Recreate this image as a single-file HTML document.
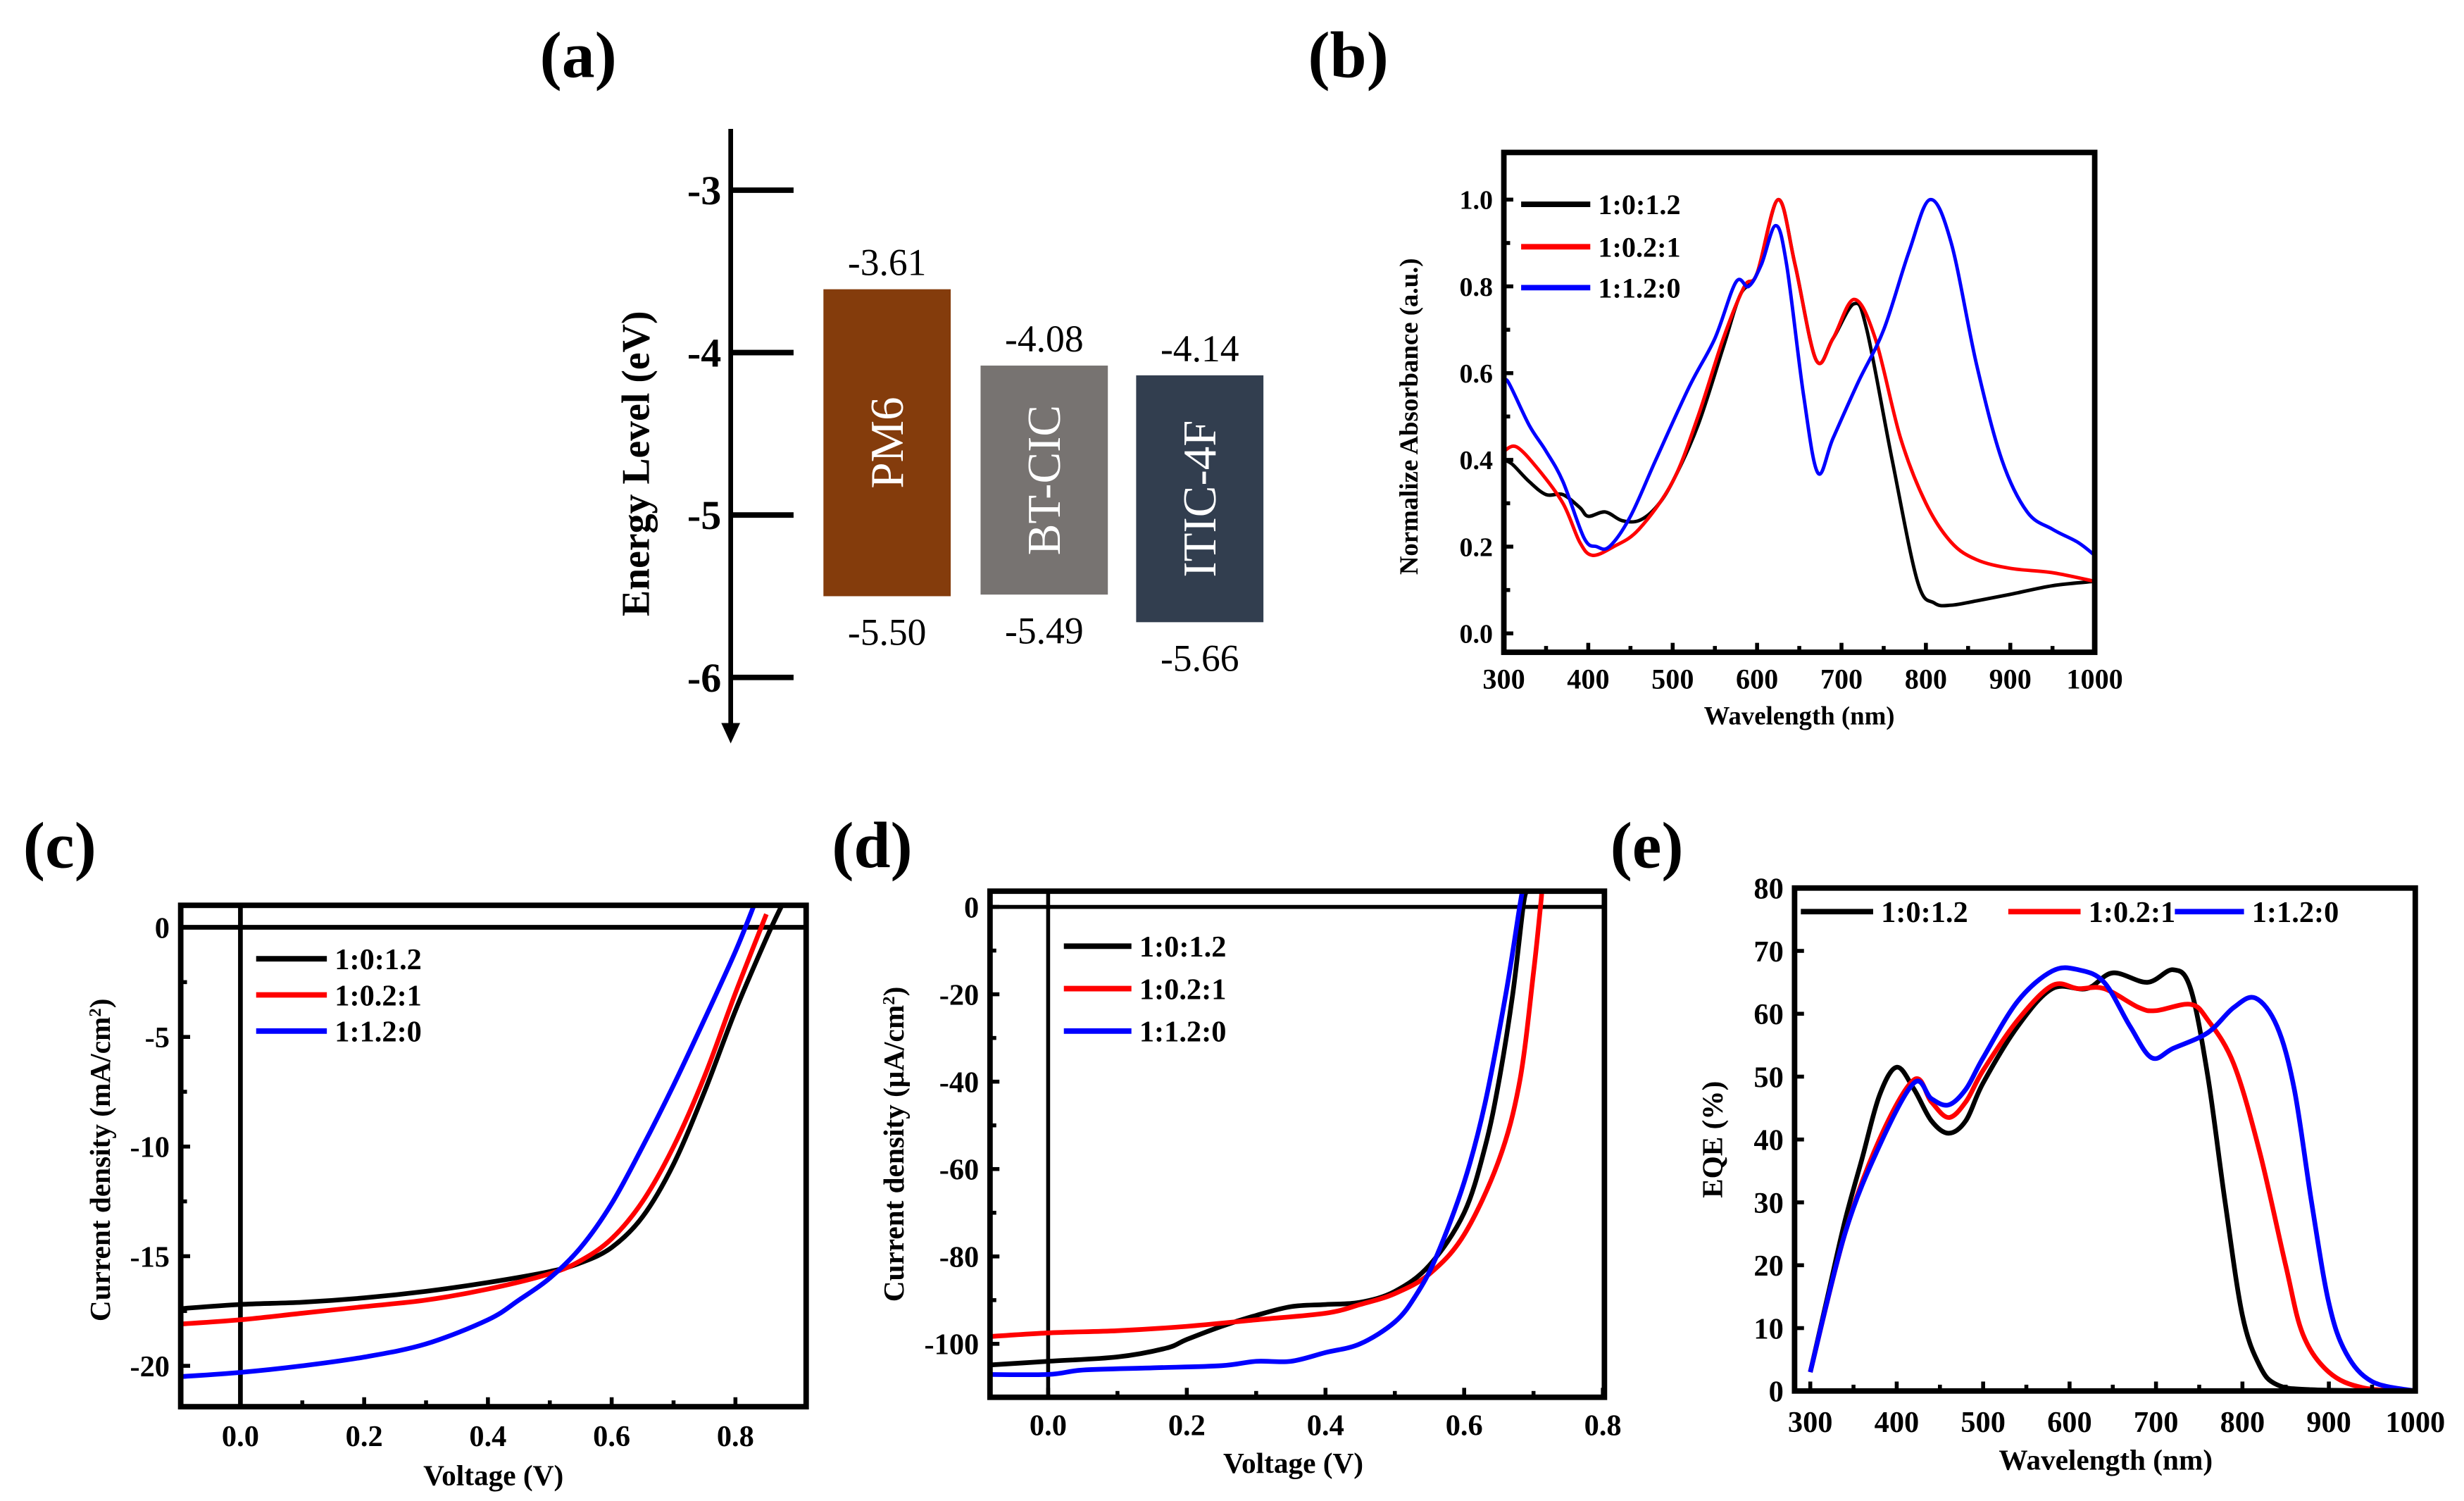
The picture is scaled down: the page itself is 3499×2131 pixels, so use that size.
<!DOCTYPE html>
<html><head><meta charset="utf-8">
<style>
html,body{margin:0;padding:0;background:#fff;}
svg{display:block;}
text{font-family:"Liberation Serif",serif;}
</style></head>
<body>
<svg id="fig" xmlns="http://www.w3.org/2000/svg" width="3499" height="2131" viewBox="0 0 1568 955" preserveAspectRatio="none">
<rect x="0" y="0" width="1568" height="955" fill="#fff"/>
</svg>
<script>
// ---------- Panel (a) data ----------
const aMaterials = ["PM6","BT-CIC","ITIC-4F"];
const aLUMO = [-3.61,-4.08,-4.14];
const aHOMO = [-5.50,-5.49,-5.66];
const aColors = ["#843c0c","#777371","#323e4f"];
const aTicks = [-3,-4,-5,-6];

// ---------- Panel (b) data ----------
const bBlackX = [300,310,330,350,370,390,400,420,440,460,480,500,530,560,580,600,625,645,670,690,715,730,760,790,810,830,860,900,950,1000];
const bBlackY = [0.40,0.39,0.35,0.32,0.32,0.29,0.27,0.28,0.26,0.26,0.29,0.35,0.48,0.66,0.78,0.83,1.0,0.85,0.63,0.68,0.76,0.70,0.40,0.12,0.07,0.065,0.075,0.09,0.11,0.12];
const bRedX = [300,315,340,370,390,405,430,460,500,530,560,585,600,625,645,670,690,715,740,770,800,830,860,900,950,1000];
const bRedY = [0.42,0.43,0.38,0.30,0.21,0.18,0.20,0.24,0.35,0.50,0.68,0.80,0.83,1.0,0.85,0.63,0.68,0.77,0.68,0.45,0.30,0.21,0.17,0.15,0.14,0.12];
const bBlueX = [300,305,330,350,370,395,410,425,450,480,520,550,575,590,605,622,635,655,672,690,720,750,780,805,830,860,890,920,950,980,1000];
const bBlueY = [0.57,0.58,0.48,0.42,0.35,0.22,0.20,0.20,0.27,0.40,0.57,0.68,0.81,0.80,0.85,0.94,0.85,0.55,0.37,0.45,0.58,0.70,0.88,1.0,0.90,0.62,0.40,0.28,0.24,0.21,0.18];
const bYTicks = [0,0.2,0.4,0.6,0.8,1.0];
const bYLabels = ["0.0","0.2","0.4","0.6","0.8","1.0"];
const wlTicks = [300,400,500,600,700,800,900,1000];

// ---------- Panel (c) data ----------
const cBlackX = [-0.1,0,0.1,0.2,0.3,0.4,0.5,0.55,0.6,0.65,0.7,0.75,0.8,0.85,0.875];
const cBlackY = [-17.4,-17.2,-17.1,-16.9,-16.6,-16.2,-15.7,-15.3,-14.6,-13.2,-10.8,-7.5,-3.8,-0.5,1.0];
const cRedX = [-0.1,0,0.1,0.2,0.3,0.4,0.5,0.55,0.6,0.65,0.7,0.75,0.8,0.85];
const cRedY = [-18.1,-17.9,-17.6,-17.3,-17.0,-16.5,-15.8,-15.2,-14.2,-12.5,-10.0,-6.8,-3.0,0.6];
const cBlueX = [-0.1,0,0.1,0.2,0.3,0.4,0.45,0.5,0.55,0.6,0.65,0.7,0.75,0.8,0.83];
const cBlueY = [-20.5,-20.3,-20.0,-19.6,-19.0,-17.9,-17.0,-16.0,-14.6,-12.6,-10.0,-7.2,-4.2,-1.1,1.0];
const cYTicks = [0,-5,-10,-15,-20];
const cXTicks = [0,0.2,0.4,0.6,0.8];
const cXLabels = ["0.0","0.2","0.4","0.6","0.8"];

// ---------- Panel (d) data ----------
const dBlackX = [-0.1,0,0.1,0.17,0.2,0.25,0.3,0.35,0.4,0.45,0.5,0.55,0.6,0.63,0.65,0.67,0.685,0.69];
const dBlackY = [-105,-104,-103,-101,-99,-96,-93.5,-91.5,-91,-90.5,-88,-82,-70,-55,-40,-20,0,3.6];
const dRedX = [-0.1,0,0.1,0.2,0.3,0.4,0.45,0.5,0.55,0.6,0.65,0.68,0.7,0.71,0.712];
const dRedY = [-98.5,-97.5,-97,-96,-94.5,-93,-91,-88.5,-84,-75,-58,-40,-15,0,3.6];
const dBlueX = [-0.1,0,0.05,0.15,0.25,0.3,0.35,0.4,0.45,0.5,0.53,0.56,0.6,0.63,0.66,0.68,0.684];
const dBlueY = [-107,-107,-106,-105.5,-105,-104,-104,-102,-100,-95,-89,-80,-63,-45,-20,0,3.6];
const dYTicks = [0,-20,-40,-60,-80,-100];
const dXTicks = [0,0.2,0.4,0.6,0.8];
const dXLabels = ["0.0","0.2","0.4","0.6","0.8"];

// ---------- Panel (e) data ----------
const eBlackX = [300,320,340,360,380,400,420,440,460,480,500,540,580,620,650,690,720,740,760,780,800,820,840,880,1000];
const eBlackY = [3,15,27,37,47,51.5,48,43,41,43,49,58,64,64,66.5,65,67,64,50,30,12,4,1,0.2,0];
const eRedX = [300,340,380,420,440,460,480,500,540,580,610,640,680,700,740,760,790,820,850,870,900,940,1000];
const eRedY = [3,25,40,49.5,46,43.5,46,51,59,64.5,64,64,61,60.5,61.5,59,52,38,20,9,3,0.5,0];
const eBlueX = [300,340,380,420,440,460,480,500,540,580,610,640,670,695,720,760,790,815,840,860,880,900,920,950,1000];
const eBlueY = [3,25,39,49,46.5,45.5,48,53,62,66.8,67,65,58,53,54.5,57,61,62.5,58,48,30,14,6,1.5,0];
const eYTicks = [0,10,20,30,40,50,60,70,80];

const NS = "http://www.w3.org/2000/svg";
const svg = document.getElementById("fig");
function mk(tag, attrs, parent, txt){
  const e = document.createElementNS(NS, tag);
  for (const k in attrs) e.setAttribute(k, attrs[k]);
  if (txt !== undefined) e.textContent = txt;
  (parent||svg).appendChild(e);
  return e;
}
function scale(d0,d1,r0,r1){ return v => r0 + (v-d0)*(r1-r0)/(d1-d0); }
function smoothPath(pts){
  let d = "M"+pts[0][0].toFixed(2)+","+pts[0][1].toFixed(2);
  for (let i=0;i<pts.length-1;i++){
    const p0=pts[i-1]||pts[i], p1=pts[i], p2=pts[i+1], p3=pts[i+2]||p2;
    const c1=[p1[0]+(p2[0]-p0[0])/6, p1[1]+(p2[1]-p0[1])/6];
    const c2=[p2[0]-(p3[0]-p1[0])/6, p2[1]-(p3[1]-p1[1])/6];
    d += "C"+c1[0].toFixed(2)+","+c1[1].toFixed(2)+" "+c2[0].toFixed(2)+","+c2[1].toFixed(2)+" "+p2[0].toFixed(2)+","+p2[1].toFixed(2);
  }
  return d;
}
function series(g, xs, ys, sx, sy, color, w, name){
  const pts = xs.map((x,i)=>[sx(x), sy(ys[i])]);
  const p = mk("path",{d:smoothPath(pts),fill:"none",stroke:color,"stroke-width":w,"stroke-linejoin":"round"},g);
  
  
}
function panelLabel(txt, x, y, name){
  const t = mk("text",{x:x,y:y,"font-size":42,"font-weight":"bold","text-anchor":"middle"},svg,txt);
  
  
}
function legendEntry(g, x1, x2, y, color, label, fs, name){
  const lg = mk("g",{},g);
  
  
  mk("line",{x1:x1,x2:x2,y1:y,y2:y,stroke:color,"stroke-width":3.5},lg);
  mk("text",{x:x2+5,y:y+fs*0.35,"font-size":fs,"font-weight":"bold"},lg,label);
}
function frame(g, L,T,R,B,w){
  const f = mk("rect",{x:L,y:T,width:R-L,height:B-T,fill:"none",stroke:"#000","stroke-width":w},g);
  
  
}
function yAxisTicks(g, ticks, labels, sy, L, fs, minor){
  ticks.forEach((v,i)=>{
    const y = sy(v);
    mk("line",{x1:L,x2:L+6,y1:y,y2:y,stroke:"#000","stroke-width":2.5},g);
    const t = mk("text",{x:L-7,y:y+fs*0.35,"font-size":fs,"font-weight":"bold","text-anchor":"end"},g,labels?labels[i]:String(v));
    
    
  });
  if (minor) for (let i=0;i<ticks.length-1;i++){
    const y = sy((ticks[i]+ticks[i+1])/2);
    mk("line",{x1:L,x2:L+4,y1:y,y2:y,stroke:"#000","stroke-width":2.5},g);
  }
}
function xAxisTicks(g, ticks, labels, sx, B, fs, ly, minor){
  ticks.forEach((v,i)=>{
    const x = sx(v);
    mk("line",{x1:x,x2:x,y1:B,y2:B-6,stroke:"#000","stroke-width":2.5},g);
    const t = mk("text",{x:x,y:ly,"font-size":fs,"font-weight":"bold","text-anchor":"middle"},g,labels?labels[i]:String(v));
    
    
  });
  if (minor) for (let i=0;i<ticks.length-1;i++){
    const x = sx((ticks[i]+ticks[i+1])/2);
    mk("line",{x1:x,x2:x,y1:B,y2:B-4,stroke:"#000","stroke-width":2.5},g);
  }
}
function axisTitles(g, xt, xx, xy, yt, yx, yy, fs){
  const a = mk("text",{x:xx,y:xy,"font-size":fs,"font-weight":"bold","text-anchor":"middle"},g,xt);
  
  
  const b = mk("text",{x:yx,y:yy,"font-size":fs,"font-weight":"bold","text-anchor":"middle",transform:"rotate(-90 "+yx+" "+yy+")"},g);
  
  
  if (Array.isArray(yt)){ yt.forEach(p=>{ mk("tspan",p.sup?{"baseline-shift":"super","font-size":fs*0.6}:{},b,p.t); }); }
  else b.textContent = yt;
}

// ===== Panel (a) =====
(function(){
  const g = mk("g",{});  
  panelLabel("(a)",368,49,"panel-label-a");
  const sy = scale(-3,-6,121,431);
  mk("line",{x1:465,x2:465,y1:82,y2:462,stroke:"#000","stroke-width":3},g);
  mk("polygon",{points:"459,460 471,460 465,473",fill:"#000"},g);
  aTicks.forEach(v=>{
    const y=sy(v);
    mk("line",{x1:465,x2:505,y1:y,y2:y,stroke:"#000","stroke-width":3.5},g);
    const t=mk("text",{x:459,y:y+9,"font-size":26,"font-weight":"bold","text-anchor":"end"},g,String(v));
     
  });
  const yt=mk("text",{x:413,y:295,"font-size":25,"font-weight":"bold","text-anchor":"middle",transform:"rotate(-90 413 295)"},g,"Energy Level (eV)");
   
  const bx=[524,624,723], bw=81;
  aMaterials.forEach((m,i)=>{
    const top=sy(aLUMO[i]), bot=sy(aHOMO[i]);
    const r=mk("rect",{x:bx[i],y:top,width:bw,height:bot-top,fill:aColors[i]},g);
     
    const cx=bx[i]+bw/2, cy=(top+bot)/2;
    mk("text",{x:cx,y:cy+10,"font-size":30,fill:"#fff","text-anchor":"middle",transform:"rotate(-90 "+cx+" "+cy+")"},g,m);
    mk("text",{x:cx,y:top-9,"font-size":24,"text-anchor":"middle"},g,aLUMO[i].toFixed(2));
    mk("text",{x:cx,y:bot+31,"font-size":24,"text-anchor":"middle"},g,aHOMO[i].toFixed(2));
  });
})();

// ===== Panel (b) =====
(function(){
  const g = mk("g",{});  
  panelLabel("(b)",858,49,"panel-label-b");
  const L=957,R=1333,T=97,B=415;
  const sx=scale(300,1000,L,R), sy=scale(0,1,403,127);
  series(g,bBlackX,bBlackY,sx,sy,"#000",2.2,"line-1-0-1.2");
  series(g,bRedX,bRedY,sx,sy,"#ff0000",2.2,"line-1-0.2-1");
  series(g,bBlueX,bBlueY,sx,sy,"#0000ff",2.2,"line-1-1.2-0");
  frame(g,L,T,R,B,3.5);
  yAxisTicks(g,bYTicks,bYLabels,sy,L,17,true);
  xAxisTicks(g,wlTicks,null,sx,B,18,438,true);
  axisTitles(g,"Wavelength (nm)",1145,461,"Normalize Absorbance (a.u.)",902,265,16.5);
  legendEntry(g,968,1012,130,"#000","1:0:1.2",18,"legend-entry-1-0-1.2");
  legendEntry(g,968,1012,157,"#ff0000","1:0.2:1",18,"legend-entry-1-0.2-1");
  legendEntry(g,968,1012,183,"#0000ff","1:1.2:0",18,"legend-entry-1-1.2-0");
})();

// ===== Panel (c) =====
(function(){
  const g = mk("g",{});  
  panelLabel("(c)",38,552,"panel-label-c");
  const L=115,R=513,T=576,B=895;
  const sx=scale(0,0.8,153,468), sy=scale(0,-20,590,869);
  const cp=mk("clipPath",{id:"clipc"},g); mk("rect",{x:L,y:T,width:R-L,height:B-T},cp);
  const inner=mk("g",{"clip-path":"url(#clipc)"},g);
  mk("line",{x1:sx(0),x2:sx(0),y1:T,y2:B,stroke:"#000","stroke-width":3},inner);
  mk("line",{x1:L,x2:R,y1:sy(0),y2:sy(0),stroke:"#000","stroke-width":3},inner);
  series(inner,cBlackX,cBlackY,sx,sy,"#000",3,"line-1-0-1.2");
  series(inner,cRedX,cRedY,sx,sy,"#ff0000",3,"line-1-0.2-1");
  series(inner,cBlueX,cBlueY,sx,sy,"#0000ff",3,"line-1-1.2-0");
  frame(g,L,T,R,B,3.5);
  yAxisTicks(g,cYTicks,null,sy,L,19,true);
  xAxisTicks(g,cXTicks,cXLabels,sx,B,19,920,true);
  axisTitles(g,"Voltage (V)",314,945,[{t:"Current density (mA/cm"},{t:"2",sup:true},{t:")"}],70,738,18.5);
  legendEntry(g,163,208,610,"#000","1:0:1.2",19,"legend-entry-1-0-1.2");
  legendEntry(g,163,208,633,"#ff0000","1:0.2:1",19,"legend-entry-1-0.2-1");
  legendEntry(g,163,208,656,"#0000ff","1:1.2:0",19,"legend-entry-1-1.2-0");
})();

// ===== Panel (d) =====
(function(){
  const g = mk("g",{});  
  panelLabel("(d)",555,552,"panel-label-d");
  const L=630,R=1021,T=567,B=889;
  const sx=scale(0,0.8,667,1020), sy=scale(0,-100,577,855);
  const cp=mk("clipPath",{id:"clipd"},g); mk("rect",{x:L,y:T,width:R-L,height:B-T},cp);
  const inner=mk("g",{"clip-path":"url(#clipd)"},g);
  mk("line",{x1:sx(0),x2:sx(0),y1:T,y2:B,stroke:"#000","stroke-width":2.5},inner);
  mk("line",{x1:L,x2:R,y1:sy(0),y2:sy(0),stroke:"#000","stroke-width":2.5},inner);
  series(inner,dBlackX,dBlackY,sx,sy,"#000",3,"line-1-0-1.2");
  series(inner,dRedX,dRedY,sx,sy,"#ff0000",3,"line-1-0.2-1");
  series(inner,dBlueX,dBlueY,sx,sy,"#0000ff",3,"line-1-1.2-0");
  frame(g,L,T,R,B,3.5);
  yAxisTicks(g,dYTicks,null,sy,L,19,true);
  xAxisTicks(g,dXTicks,dXLabels,sx,B,19,913,true);
  axisTitles(g,"Voltage (V)",823,937,[{t:"Current density (μA/cm"},{t:"2",sup:true},{t:")"}],575,728,18.5);
  legendEntry(g,677,720,602,"#000","1:0:1.2",19,"legend-entry-1-0-1.2");
  legendEntry(g,677,720,629,"#ff0000","1:0.2:1",19,"legend-entry-1-0.2-1");
  legendEntry(g,677,720,656,"#0000ff","1:1.2:0",19,"legend-entry-1-1.2-0");
})();

// ===== Panel (e) =====
(function(){
  const g = mk("g",{});  
  panelLabel("(e)",1048,552,"panel-label-e");
  const L=1142,R=1537,T=565,B=885;
  const sx=scale(300,1000,1152,1537), sy=scale(0,80,885,565);
  series(g,eBlackX,eBlackY,sx,sy,"#000",3,"line-1-0-1.2");
  series(g,eRedX,eRedY,sx,sy,"#ff0000",3,"line-1-0.2-1");
  series(g,eBlueX,eBlueY,sx,sy,"#0000ff",3,"line-1-1.2-0");
  frame(g,L,T,R,B,3.5);
  yAxisTicks(g,eYTicks,null,sy,L,19,false);
  xAxisTicks(g,wlTicks,null,sx,B,19,911,true);
  axisTitles(g,"Wavelength (nm)",1340,935,"EQE (%)",1096,725,18.5);
  legendEntry(g,1146,1192,580,"#000","1:0:1.2",19,"legend-entry-1-0-1.2");
  legendEntry(g,1278,1324,580,"#ff0000","1:0.2:1",19,"legend-entry-1-0.2-1");
  legendEntry(g,1384,1428,580,"#0000ff","1:1.2:0",19,"legend-entry-1-1.2-0");
})();
</script>
</body></html>
